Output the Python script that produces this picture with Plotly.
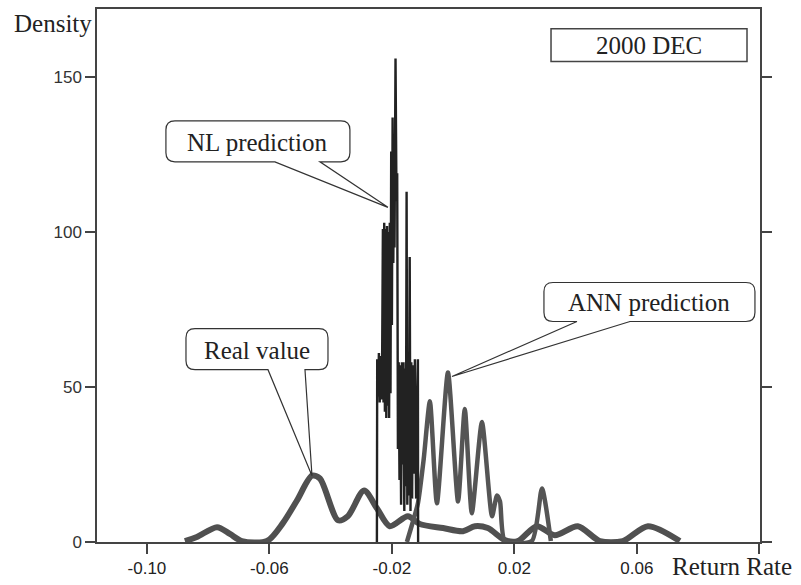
import plotly.graph_objects as go

# ---------------- data ----------------
real_x = [-0.0876, -0.0837, -0.0771, -0.0729, -0.0690, -0.0608, -0.0556, -0.0510,
          -0.0461, -0.0435, -0.0376, -0.0344, -0.0291, -0.0249, -0.0207, -0.0148,
          -0.0109, -0.0033, 0.0032, 0.0071, 0.0113, 0.0169, 0.0211, 0.0273,
          0.0332, 0.0407, 0.0479, 0.0554, 0.0636, 0.0740]
real_y = [0.3, 1.6, 4.8, 2.6, 0.3, 0.3, 6.1, 13.4,
          21.4, 20.5, 7.0, 8.3, 16.6, 10.9, 5.1, 8.3,
          5.8, 4.5, 3.5, 5.1, 4.5, 0.6, 0.3, 5.1,
          2.2, 5.1, 0.3, 0.3, 5.1, 0.3]

ann_x = [-0.0151, -0.0131, -0.0115, -0.0096, -0.0076, -0.0053, -0.0017, 0.0016,
         0.0038, 0.0061, 0.0094, 0.0127, 0.0143, 0.0153, 0.0169, 0.0257,
         0.0290, 0.0319]
ann_y = [0.0, 6.7, 12.5, 26.9, 45.4, 12.5, 54.7, 13.1,
         42.9, 9.3, 38.7, 8.3, 15.0, 13.1, 0.3, 0.3,
         17.3, 0.3]

nl_x = [-0.02490, -0.02480, -0.02451, -0.02425, -0.02398, -0.02372, -0.02346, -0.02320,
        -0.02294, -0.02274, -0.02251, -0.02229, -0.02206, -0.02183, -0.02160, -0.02137,
        -0.02114, -0.02091, -0.02069, -0.02046, -0.02023, -0.02000, -0.01977, -0.01954,
        -0.01935, -0.01915, -0.01882, -0.01850, -0.01827, -0.01804, -0.01778, -0.01752,
        -0.01726, -0.01700, -0.01673, -0.01647, -0.01621, -0.01595, -0.01569, -0.01543,
        -0.01520, -0.01497, -0.01471, -0.01445, -0.01419, -0.01393, -0.01367, -0.01340,
        -0.01314, -0.01288, -0.01249, -0.01210, -0.01151, -0.01144]
nl_y = [0, 59, 47, 61, 45, 60, 46, 58,
        101, 45, 103, 42, 101, 40, 102, 44,
        100, 40, 103, 48, 126, 70, 137, 90,
        120, 95, 156, 110, 119, 30, 58, 20,
        57, 12, 58, 25, 58, 10, 56, 18,
        113, 12, 58, 15, 92, 10, 58, 14,
        57, 22, 59, 14, 59, 0]

x_tickvals = [-0.10, -0.06, -0.02, 0.02, 0.06, 0.10]
x_ticktext = ["-0.10", "-0.06", "-0.02", "0.02", "0.06", ""]
y_tickvals = [0, 50, 100, 150]
y_ticktext = ["0", "50", "100", "150"]

nl_label_at = (-0.0213, 108)   # where the NL callout points

# ---------------- figure ----------------
AXC = "#444444"
SERIF = "Liberation Serif, Times New Roman, serif"
SANS = "Liberation Sans, Arial, sans-serif"

fig = go.Figure()
fig.add_trace(go.Scatter(x=real_x, y=real_y, mode="lines", name="Real value",
                         line=dict(color="#505050", width=6, shape="spline", smoothing=0.8)))
fig.add_trace(go.Scatter(x=ann_x, y=ann_y, mode="lines", name="ANN prediction",
                         line=dict(color="#555555", width=4.5, shape="spline", smoothing=0.6)))
fig.add_trace(go.Scatter(x=nl_x, y=nl_y, mode="lines", name="NL prediction",
                         line=dict(color="#222222", width=2.4)))


def bubble_path(L, R, B, T, g0, g1, tx, ty, r=9):
    return (f"M{g1},{B} L{R - r},{B} Q{R},{B} {R},{B + r} L{R},{T - r} "
            f"Q{R},{T} {R - r},{T} L{L + r},{T} Q{L},{T} {L},{T - r} "
            f"L{L},{B + r} Q{L},{B} {L + r},{B} L{g0},{B} L{tx},{ty} Z")


def callout(ax, ay, text, L, R, B, T, g0, g1, tx=0, ty=0):
    fig.add_shape(type="path", xref="x", yref="y", xsizemode="pixel", ysizemode="pixel",
                  xanchor=ax, yanchor=ay, path=bubble_path(L, R, B, T, g0, g1, tx, ty),
                  line=dict(color="#333333", width=1.2), fillcolor="white", layer="above")
    fig.add_annotation(x=ax, y=ay, xref="x", yref="y", text=text, showarrow=False,
                       xanchor="center", yanchor="middle",
                       xshift=(L + R) / 2, yshift=(B + T) / 2 - 1,
                       font=dict(family=SERIF, size=25, color="#222222"))


i_real = max(range(len(real_y)), key=lambda i: real_y[i])
i_ann = max(range(len(ann_y)), key=lambda i: ann_y[i])

callout(real_x[i_real], real_y[i_real], "Real value", -126, 16, 106, 147, -44, -7)
callout(nl_label_at[0], nl_label_at[1], "NL prediction", -222, -38, 45.5, 86.5, -113, -68)
callout(ann_x[i_ann], ann_y[i_ann], "ANN prediction", 96, 307, 51, 90, 129, 182, 4, -4)

# "2000 DEC" box
fig.add_shape(type="rect", xref="paper", yref="paper", x0=0.6848, x1=0.9804, y0=0.9013, y1=0.9628,
              line=dict(color="#444444", width=1.5), fillcolor="white", layer="above")
fig.add_annotation(xref="paper", yref="paper", x=0.8326, y=0.932, xanchor="center", yanchor="middle",
                   text="2000 DEC", showarrow=False,
                   font=dict(family=SERIF, size=25, color="#222222"))

# axis titles
fig.add_annotation(xref="paper", yref="paper", x=0, y=0.972, xanchor="right", yanchor="middle",
                   xshift=-3, text="Density", showarrow=False,
                   font=dict(family=SERIF, size=25, color="#222222"))
fig.add_annotation(xref="paper", yref="paper", x=0.8643, y=-0.046, xanchor="left", yanchor="middle",
                   text="Return Rate", showarrow=False,
                   font=dict(family=SERIF, size=25, color="#222222"))

fig.update_layout(
    width=801, height=585, autosize=False,
    margin=dict(l=97, r=41, t=7, b=41, pad=0),
    paper_bgcolor="white", plot_bgcolor="white",
    showlegend=False,
    xaxis=dict(range=[-0.1163, 0.1002], tickvals=x_tickvals, ticktext=x_ticktext,
               showgrid=False, zeroline=False, showline=True, linecolor=AXC, linewidth=1.5,
               mirror=True, ticks="outside", ticklen=10, tickwidth=1.5, tickcolor=AXC,
               tickfont=dict(family=SANS, size=17, color="#222222")),
    yaxis=dict(range=[0, 172], tickvals=y_tickvals, ticktext=y_ticktext,
               showgrid=False, zeroline=False, showline=True, linecolor=AXC, linewidth=1.5,
               mirror="ticks", ticks="outside", ticklen=10, tickwidth=1.5, tickcolor=AXC,
               tickfont=dict(family=SANS, size=17, color="#333333")),
)

fig.write_html("out.html")
